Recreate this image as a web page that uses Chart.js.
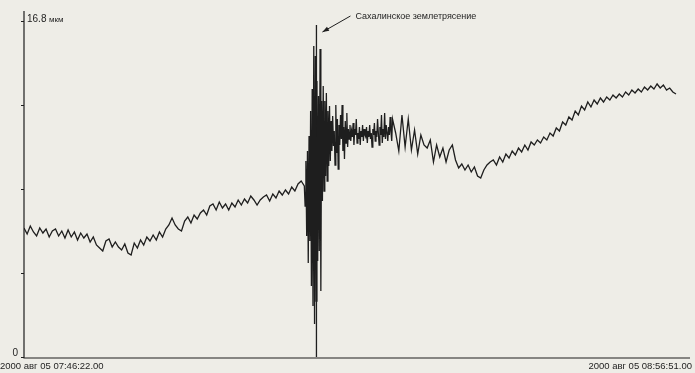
<!DOCTYPE html>
<html>
<head>
<meta charset="utf-8">
<script src="https://cdn.jsdelivr.net/npm/chart.js@4"></script>
<style>
  html, body { margin: 0; padding: 0; background: #eeede7; }
  #wrap { width: 695px; height: 373px; }
</style>
</head>
<body>
<div id="wrap"><canvas id="seismo"></canvas></div>
<script>
// time in seconds from 2000 aug 05 07:46:22, values in micrometres
const startLabel = "2000 авг 05 07:46:22.00";
const endLabel = "2000 авг 05 08:56:51.00";
const totalSeconds = 4229;
const yMax = 16.8;
const yTicks = [0, 4.2, 8.4, 12.6, 16.8];
const eventLabel = "Сахалинское землетрясение";
const eventTime = 1857;
const eventTop = 16.6;

// before the quake, one sample every 20 s
const preStart = 0, preStep = 20;
const preValues = [
  6.45, 6.15, 6.55, 6.25, 6.05, 6.45, 6.2, 6.4, 6.0, 6.3,
  6.4, 6.05, 6.3, 5.95, 6.35, 6.0, 6.25, 5.85, 6.2, 5.95,
  6.15, 5.75, 6.0, 5.6, 5.45, 5.3, 5.8, 5.9, 5.5, 5.75,
  5.5, 5.35, 5.65, 5.2, 5.1, 5.7, 5.45, 5.85, 5.6, 6.0,
  5.8, 6.1, 5.85, 6.25, 6.0, 6.4, 6.6, 6.95, 6.6, 6.4,
  6.3, 6.8, 7.0, 6.7, 7.1, 6.9, 7.2, 7.35, 7.1, 7.55,
  7.65, 7.35, 7.75, 7.45, 7.65, 7.35, 7.7, 7.5, 7.85, 7.6,
  7.9, 7.7, 8.05, 7.85, 7.6, 7.85, 8.0, 8.1, 7.8, 8.15,
  7.95, 8.3, 8.1, 8.35, 8.15, 8.5, 8.3, 8.65, 8.8
];

// the quake and its coda, one sample every 5 s
const quakeStart = 1780, quakeStep = 5;
const quakeValues = [
  8.55, 7.55, 9.8, 6.05, 10.3, 4.7, 11.05, 5.8, 12.3, 3.55,
  13.4, 2.55, 15.55, 1.65, 15.05, 2.8, 13.8, 4.8, 13.05, 5.3,
  15.4, 3.3, 12.8, 7.8, 13.55, 8.3, 12.8, 9.05, 13.2, 8.8,
  12.3, 9.55, 12.55, 9.8, 11.8, 10.3, 12.05, 10.55,
  11.3, 9.6, 12.6, 10.2, 11.9, 9.4, 11.6, 10.6, 12.1, 10.9,
  12.6, 10.3, 11.5, 9.9, 11.8, 10.7, 12.2, 10.5, 11.4, 10.9,
  11.6, 10.8, 11.3, 11.0, 11.7, 10.6, 11.4, 11.1, 11.9, 10.7,
  11.2, 10.9, 11.5, 10.6, 11.3, 11.0, 11.6, 10.8, 11.4, 11.1,
  11.0, 11.5, 10.7, 11.3, 11.0, 11.6, 10.9, 11.2, 10.5, 11.4,
  11.1, 11.7, 10.8, 11.3, 11.0, 11.9, 11.2, 10.6, 11.5, 11.1,
  12.1, 10.7, 11.4, 11.0, 12.2, 10.9, 11.6, 11.2, 10.8, 11.5,
  11.1, 12.0, 11.3, 10.8
];

// after the quake, one sample every 20 s
const postStart = 2340, postStep = 20;
const postValues = [
  11.9, 11.2, 10.3, 12.1, 10.5, 11.9, 10.35, 11.35, 10.15, 11.1, 10.6, 10.45,
  10.85, 9.75, 10.6, 10.0, 10.45, 9.75, 10.35, 10.6, 9.85, 9.45,
  9.65, 9.35, 9.6, 9.25, 9.5, 9.05, 8.95, 9.35, 9.6, 9.75,
  9.85, 9.6, 10.0, 9.75, 10.15, 9.95, 10.3, 10.1, 10.45, 10.25,
  10.6, 10.35, 10.75, 10.6, 10.85, 10.7, 11.0, 10.85, 11.2, 11.05,
  11.45, 11.3, 11.75, 11.6, 12.0, 11.85, 12.3, 12.1, 12.55, 12.35,
  12.75, 12.5, 12.85, 12.65, 12.95, 12.75, 13.0, 12.85, 13.1, 12.95,
  13.15, 13.0, 13.25, 13.1, 13.35, 13.2, 13.4, 13.25, 13.5, 13.35,
  13.55, 13.4, 13.65, 13.45, 13.6, 13.35, 13.45, 13.25, 13.15
];

function toPoints(start, step, values) {
  return values.map((v, i) => ({x: start + i * step, y: v}));
}
const trace = [].concat(
  toPoints(preStart, preStep, preValues),
  toPoints(quakeStart, quakeStep, quakeValues),
  toPoints(postStart, postStep, postValues)
);

const ink = "#1e1e1e";

const axesPlugin = {
  id: "paperAxes",
  afterDraw(chart) {
    const c = chart.ctx;
    const xs = chart.scales.x, ys = chart.scales.y;
    const y0 = ys.getPixelForValue(0) + 1;
    c.save();
    c.strokeStyle = ink;
    c.fillStyle = ink;
    c.lineWidth = 1.2;
    c.beginPath();
    c.moveTo(xs.left, chart.chartArea.top - 2);
    c.lineTo(xs.left, y0);
    c.lineTo(xs.right, y0);
    c.stroke();
    c.lineWidth = 1;
    for (const t of yTicks) {
      const py = Math.round(ys.getPixelForValue(t)) + 0.5;
      c.beginPath();
      c.moveTo(xs.left - 3, py);
      c.lineTo(xs.left, py);
      c.stroke();
    }
    c.textBaseline = "middle";
    c.font = "10px 'Liberation Sans', Arial, sans-serif";
    c.textAlign = "right";
    c.fillText("0", xs.left - 6, y0 - 5);
    c.textAlign = "left";
    const topY = ys.getPixelForValue(yMax);
    c.fillText("16.8", xs.left + 3, topY - 2);
    c.font = "8px 'Liberation Sans', Arial, sans-serif";
    c.fillText("мкм", xs.left + 25, topY - 1);
    c.font = "9.5px 'Liberation Sans', Arial, sans-serif";
    c.textBaseline = "top";
    c.textAlign = "left";
    c.fillText(startLabel, 0, y0 + 4);
    c.textAlign = "right";
    c.fillText(endLabel, xs.right + 2, y0 + 4);
    // annotation
    const ex = xs.getPixelForValue(eventTime);
    const ey = ys.getPixelForValue(eventTop);
    c.font = "9px 'Liberation Sans', Arial, sans-serif";
    c.textAlign = "left";
    c.textBaseline = "middle";
    c.fillText(eventLabel, ex + 39, ey - 8);
    const ax0 = ex + 34, ay0 = ey - 9, ax1 = ex + 6, ay1 = ey + 7;
    c.beginPath();
    c.moveTo(ax0, ay0);
    c.lineTo(ax1, ay1);
    c.stroke();
    const ang = Math.atan2(ay1 - ay0, ax1 - ax0);
    c.beginPath();
    c.moveTo(ax1, ay1);
    c.lineTo(ax1 - 7 * Math.cos(ang - 0.35), ay1 - 7 * Math.sin(ang - 0.35));
    c.lineTo(ax1 - 7 * Math.cos(ang + 0.35), ay1 - 7 * Math.sin(ang + 0.35));
    c.closePath();
    c.fill();
    c.restore();
  }
};

new Chart(document.getElementById("seismo"), {
  type: "line",
  data: {
    datasets: [{
      data: trace,
      borderColor: ink,
      borderWidth: 1.3,
      pointRadius: 0,
      tension: 0,
      fill: false
    }, {
      data: [{x: eventTime, y: 0}, {x: eventTime, y: eventTop}],
      borderColor: ink,
      borderWidth: 1.3,
      pointRadius: 0,
      fill: false
    }]
  },
  options: {
    responsive: true,
    maintainAspectRatio: false,
    animation: false,
    parsing: false,
    layout: { padding: { left: 24, right: 5, top: 13, bottom: 16 } },
    plugins: { legend: { display: false }, tooltip: { enabled: false } },
    scales: {
      x: { type: "linear", min: 0, max: totalSeconds, display: false },
      y: { min: 0, max: 17.2, display: false }
    }
  },
  plugins: [axesPlugin]
});
</script>
</body>
</html>
